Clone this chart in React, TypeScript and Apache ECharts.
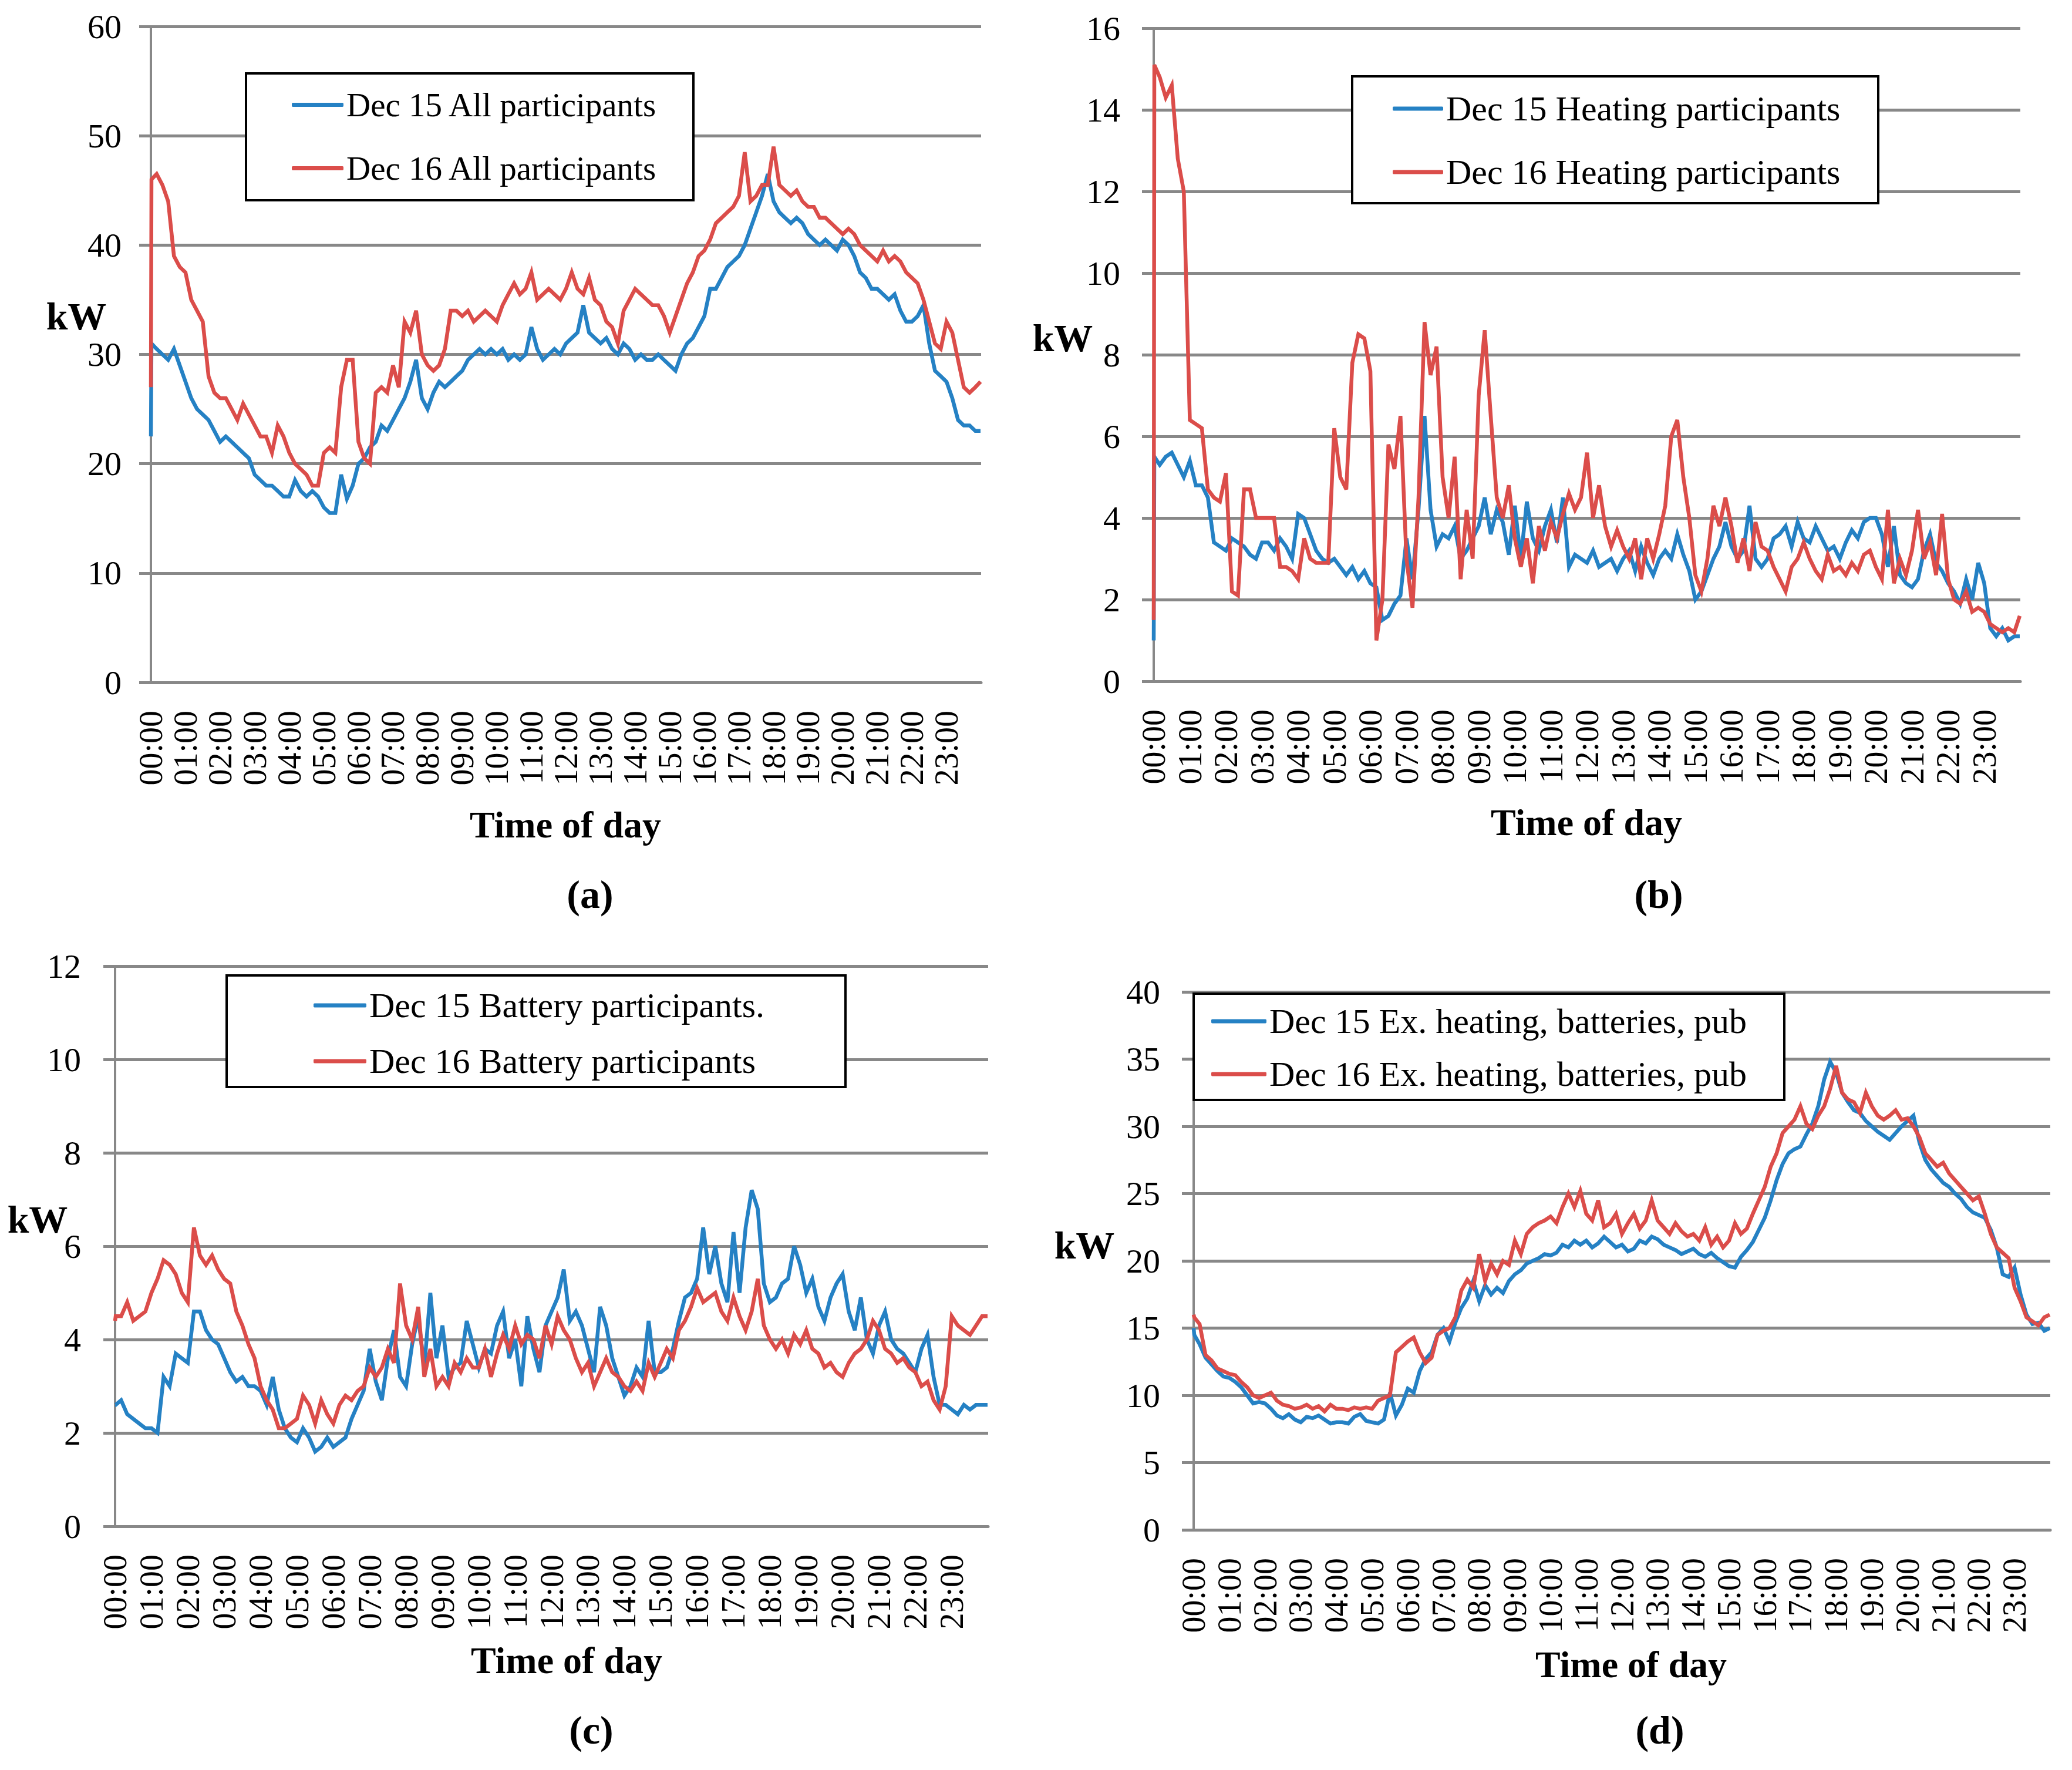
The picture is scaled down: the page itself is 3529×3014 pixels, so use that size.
import { useEffect, useRef } from 'react';
import * as echarts from 'echarts';

// ---------- tick labels ----------
const HOUR_LABELS = [
  '00:00', '01:00', '02:00', '03:00', '04:00', '05:00', '06:00', '07:00',
  '08:00', '09:00', '10:00', '11:00', '12:00', '13:00', '14:00', '15:00',
  '16:00', '17:00', '18:00', '19:00', '20:00', '21:00', '22:00', '23:00',
];

// sample times (minutes after midnight): first reading, then every 10 min, then last minute
const SAMPLE_MINUTES: number[] = (() => {
  const m = [0, 1];
  for (let k = 1; k <= 143; k++) m.push(k * 10);
  m.push(1439);
  return m;
})();

// ---------- (a) All participants ----------
const ALL_DEC15 = [
  22.5,
  31, 30.5, 30, 29.5, 30.5, 29,
  27.5, 26, 25, 24.5, 24, 23,
  22, 22.5, 22, 21.5, 21, 20.5,
  19, 18.5, 18, 18, 17.5, 17,
  17, 18.5, 17.5, 17, 17.5, 17,
  16, 15.5, 15.5, 19, 16.8, 18,
  20, 20.5, 21.5, 22, 23.5, 23,
  24, 25, 26, 27.5, 29.5, 26,
  25, 26.5, 27.5, 27, 27.5, 28,
  28.5, 29.5, 30, 30.5, 30, 30.5,
  30, 30.5, 29.5, 30, 29.5, 30,
  32.5, 30.5, 29.5, 30, 30.5, 30,
  31, 31.5, 32, 34.5, 32, 31.5,
  31, 31.5, 30.5, 30, 31, 30.5,
  29.5, 30, 29.5, 29.5, 30, 29.5,
  29, 28.5, 30, 31, 31.5, 32.5,
  33.5, 36, 36, 37, 38, 38.5,
  39, 40, 41.5, 43, 44.5, 46.5,
  44, 43, 42.5, 42, 42.5, 42,
  41, 40.5, 40, 40.5, 40, 39.5,
  40.5, 40, 39, 37.5, 37, 36,
  36, 35.5, 35, 35.5, 34, 33,
  33, 33.5, 34.5, 31, 28.5, 28,
  27.5, 26, 24, 23.5, 23.5, 23,
  23,
];
const ALL_DEC16 = [
  27,
  46, 46.5, 45.5, 44, 39, 38,
  37.5, 35, 34, 33, 28, 26.5,
  26, 26, 25, 24, 25.5, 24.5,
  23.5, 22.5, 22.5, 21, 23.5, 22.5,
  21, 20, 19.5, 19, 18, 18,
  21, 21.5, 21, 27, 29.5, 29.5,
  22, 20.5, 20, 26.5, 27, 26.5,
  29, 27, 33, 32, 34, 30,
  29, 28.5, 29, 30.5, 34, 34,
  33.5, 34, 33, 33.5, 34, 33.5,
  33, 34.5, 35.5, 36.5, 35.5, 36,
  37.5, 35, 35.5, 36, 35.5, 35,
  36, 37.5, 36, 35.5, 37, 35,
  34.5, 33, 32.5, 31, 34, 35,
  36, 35.5, 35, 34.5, 34.5, 33.5,
  32, 33.5, 35, 36.5, 37.5, 39,
  39.5, 40.5, 42, 42.5, 43, 43.5,
  44.5, 48.5, 44, 44.5, 45.5, 45.5,
  49, 45.5, 45, 44.5, 45, 44,
  43.5, 43.5, 42.5, 42.5, 42, 41.5,
  41, 41.5, 41, 40, 39.5, 39,
  38.5, 39.5, 38.5, 39, 38.5, 37.5,
  37, 36.5, 35, 33, 31, 30.5,
  33, 32, 29.5, 27, 26.5, 27,
  27.5,
];

// ---------- (b) Heating participants ----------
const HEAT_DEC15 = [
  1.0,
  5.5, 5.3, 5.5, 5.6, 5.3, 5.0,
  5.4, 4.8, 4.8, 4.5, 3.4, 3.3,
  3.2, 3.5, 3.4, 3.3, 3.1, 3.0,
  3.4, 3.4, 3.2, 3.5, 3.3, 3.0,
  4.1, 4.0, 3.6, 3.2, 3.0, 2.9,
  3.0, 2.8, 2.6, 2.8, 2.5, 2.7,
  2.4, 2.3, 1.5, 1.6, 1.9, 2.1,
  3.5, 2.5, 4.2, 6.5, 4.2, 3.3,
  3.6, 3.5, 3.8, 3.0, 3.2, 3.5,
  3.8, 4.5, 3.6, 4.2, 3.9, 3.1,
  4.3, 3.0, 4.4, 3.5, 3.2, 3.8,
  4.2, 3.4, 4.5, 2.8, 3.1, 3.0,
  2.9, 3.2, 2.8, 2.9, 3.0, 2.7,
  3.0, 3.2, 2.7, 3.3, 2.9, 2.6,
  3.0, 3.2, 3.0, 3.6, 3.1, 2.7,
  2.0, 2.2, 2.6, 3.0, 3.3, 3.9,
  3.3, 3.0, 3.2, 4.3, 3.0, 2.8,
  3.0, 3.5, 3.6, 3.8, 3.3, 3.9,
  3.5, 3.4, 3.8, 3.5, 3.2, 3.3,
  3.0, 3.4, 3.7, 3.5, 3.9, 4.0,
  4.0, 3.6, 2.8, 3.8, 2.6, 2.4,
  2.3, 2.5, 3.2, 3.6, 2.9, 2.7,
  2.4, 2.2, 1.9, 2.5, 2.0, 2.9,
  2.4, 1.3, 1.1, 1.3, 1.0, 1.1,
  1.1,
];
const HEAT_DEC16 = [
  1.5,
  15.1, 14.8, 14.3, 14.6, 12.8, 12.0,
  6.4, 6.3, 6.2, 4.7, 4.5, 4.4,
  5.1, 2.2, 2.1, 4.7, 4.7, 4.0,
  4.0, 4.0, 4.0, 2.8, 2.8, 2.7,
  2.5, 3.5, 3.0, 2.9, 2.9, 2.9,
  6.2, 5.0, 4.7, 7.8, 8.5, 8.4,
  7.6, 1.0, 2.0, 5.8, 5.2, 6.5,
  3.0, 1.8, 4.5, 8.8, 7.5, 8.2,
  5.0, 4.0, 5.5, 2.5, 4.2, 3.0,
  7.0, 8.6, 6.5, 4.5, 4.0, 4.8,
  3.5, 2.8, 3.5, 2.4, 3.8, 3.2,
  3.9, 3.5, 4.1, 4.6, 4.2, 4.5,
  5.6, 4.0, 4.8, 3.8, 3.3, 3.7,
  3.3, 3.0, 3.5, 2.5, 3.5, 3.0,
  3.6, 4.3, 6.0, 6.4, 5.0, 4.0,
  2.6, 2.2, 3.0, 4.3, 3.8, 4.5,
  3.8, 2.9, 3.5, 2.7, 3.9, 3.3,
  3.2, 2.8, 2.5, 2.2, 2.8, 3.0,
  3.4, 3.0, 2.7, 2.5, 3.1, 2.7,
  2.8, 2.6, 2.9, 2.7, 3.1, 3.2,
  2.8, 2.5, 4.2, 2.4, 3.0, 2.6,
  3.2, 4.2, 3.0, 3.4, 2.6, 4.1,
  2.5, 2.0, 1.9, 2.2, 1.7, 1.8,
  1.7, 1.4, 1.3, 1.2, 1.3, 1.2,
  1.6,
];

// ---------- (c) Battery participants ----------
const BATT_DEC15 = [
  2.6,
  2.6, 2.7, 2.4, 2.3, 2.2, 2.1,
  2.1, 2.0, 3.2, 3.0, 3.7, 3.6,
  3.5, 4.6, 4.6, 4.2, 4.0, 3.9,
  3.6, 3.3, 3.1, 3.2, 3.0, 3.0,
  2.9, 2.6, 3.2, 2.5, 2.1, 1.9,
  1.8, 2.1, 1.9, 1.6, 1.7, 1.9,
  1.7, 1.8, 1.9, 2.3, 2.6, 2.9,
  3.8, 3.1, 2.7, 3.6, 4.2, 3.2,
  3.0, 3.9, 4.5, 3.4, 5.0, 3.6,
  4.3, 3.2, 3.4, 3.5, 4.4, 3.9,
  3.4, 3.8, 3.7, 4.3, 4.6, 3.6,
  4.0, 3.0, 4.5, 3.8, 3.3, 4.3,
  4.6, 4.9, 5.5, 4.4, 4.6, 4.3,
  3.8, 3.3, 4.7, 4.3, 3.6, 3.2,
  2.8, 3.0, 3.4, 3.2, 4.4, 3.3,
  3.3, 3.4, 3.8, 4.4, 4.9, 5.0,
  5.3, 6.4, 5.4, 6.0, 5.2, 4.8,
  6.3, 5.0, 6.4, 7.2, 6.8, 5.2,
  4.8, 4.9, 5.2, 5.3, 6.0, 5.6,
  5.0, 5.3, 4.7, 4.4, 4.9, 5.2,
  5.4, 4.6, 4.2, 4.9, 4.0, 3.7,
  4.3, 4.6, 4.0, 3.8, 3.7, 3.5,
  3.3, 3.8, 4.1, 3.2, 2.6, 2.6,
  2.5, 2.4, 2.6, 2.5, 2.6, 2.6,
  2.6,
];
const BATT_DEC16 = [
  4.4,
  4.5, 4.5, 4.8, 4.4, 4.5, 4.6,
  5.0, 5.3, 5.7, 5.6, 5.4, 5.0,
  4.8, 6.4, 5.8, 5.6, 5.8, 5.5,
  5.3, 5.2, 4.6, 4.3, 3.9, 3.6,
  3.0, 2.7, 2.5, 2.1, 2.1, 2.2,
  2.3, 2.8, 2.6, 2.2, 2.7, 2.4,
  2.2, 2.6, 2.8, 2.7, 2.9, 3.0,
  3.4, 3.2, 3.4, 3.8, 3.5, 5.2,
  4.3, 4.0, 4.7, 3.2, 3.8, 3.0,
  3.2, 3.0, 3.5, 3.3, 3.6, 3.4,
  3.4, 3.8, 3.2, 3.7, 4.1, 3.8,
  4.3, 3.9, 4.1, 4.0, 3.6, 4.3,
  3.9, 4.5, 4.2, 4.0, 3.6, 3.3,
  3.5, 3.0, 3.3, 3.6, 3.3, 3.2,
  3.0, 2.9, 3.1, 2.9, 3.5, 3.2,
  3.5, 3.8, 3.6, 4.2, 4.4, 4.7,
  5.1, 4.8, 4.9, 5.0, 4.6, 4.4,
  4.9, 4.5, 4.2, 4.6, 5.3, 4.3,
  4.0, 3.8, 4.0, 3.7, 4.1, 3.9,
  4.2, 3.8, 3.7, 3.4, 3.5, 3.3,
  3.2, 3.5, 3.7, 3.8, 4.0, 4.4,
  4.2, 3.8, 3.7, 3.5, 3.6, 3.4,
  3.3, 3.0, 3.1, 2.7, 2.5, 3.0,
  4.5, 4.3, 4.2, 4.1, 4.3, 4.5,
  4.5,
];

// ---------- (d) Ex. heating, batteries, pub ----------
const EXCL_DEC15 = [
  15.0,
  14.5, 13.8, 12.8, 12.3, 11.8, 11.4,
  11.3, 11.0, 10.6, 10.0, 9.4, 9.5,
  9.4, 9.0, 8.5, 8.3, 8.6, 8.2,
  8.0, 8.4, 8.3, 8.5, 8.2, 7.9,
  8.0, 8.0, 7.9, 8.4, 8.6, 8.1,
  8.0, 7.9, 8.2, 10.2, 8.5, 9.3,
  10.5, 10.2, 11.8, 12.7, 13.2, 14.5,
  15.0, 14.0, 15.4, 16.5, 17.2, 18.5,
  17.0, 18.2, 17.5, 18.0, 17.6, 18.5,
  19.0, 19.3, 19.8, 20.0, 20.2, 20.5,
  20.4, 20.6, 21.2, 21.0, 21.5, 21.2,
  21.5, 21.0, 21.3, 21.8, 21.4, 21.0,
  21.2, 20.7, 20.9, 21.5, 21.3, 21.8,
  21.6, 21.2, 21.0, 20.8, 20.5, 20.7,
  20.9, 20.5, 20.3, 20.6, 20.2, 19.9,
  19.6, 19.5, 20.3, 20.8, 21.4, 22.3,
  23.2, 24.5, 26.0, 27.2, 28.0, 28.3,
  28.5, 29.4, 30.2, 31.5, 33.5, 34.8,
  34.0, 32.5, 31.8, 31.2, 31.0, 30.4,
  30.0, 29.6, 29.3, 29.0, 29.5, 30.0,
  30.4, 30.8, 28.8, 27.5, 26.8, 26.3,
  25.8, 25.5, 25.0, 24.6, 24.0, 23.6,
  23.4, 23.2, 22.3, 21.0, 19.0, 18.8,
  19.5, 17.5, 16.0, 15.3, 15.4, 14.8,
  15.0,
];
const EXCL_DEC16 = [
  16.0,
  15.8, 15.3, 13.0, 12.6, 12.0, 11.8,
  11.6, 11.5, 11.0, 10.6, 10.0, 9.8,
  10.0, 10.2, 9.6, 9.3, 9.2, 9.0,
  9.1, 9.3, 9.0, 9.2, 8.8, 9.3,
  9.0, 9.0, 8.9, 9.1, 9.0, 9.1,
  9.0, 9.6, 9.8, 10.0, 13.2, 13.6,
  14.0, 14.3, 13.2, 12.4, 12.8, 14.5,
  14.8, 15.0, 15.8, 17.8, 18.6, 18.0,
  20.5, 18.5, 19.8, 19.0, 20.0, 19.7,
  21.5, 20.5, 22.0, 22.5, 22.8, 23.0,
  23.3, 22.8, 24.0, 25.0, 24.0, 25.2,
  23.5, 23.0, 24.5, 22.5, 22.8, 23.5,
  22.0, 22.8, 23.5, 22.4, 23.0, 24.5,
  23.0, 22.5, 22.0, 22.8, 22.2, 21.8,
  22.0, 21.5, 22.5, 21.2, 21.8, 21.0,
  21.5, 22.8, 22.0, 22.4, 23.5, 24.5,
  25.5, 27.0, 28.0, 29.5, 30.0, 30.5,
  31.5, 30.2, 29.8, 30.8, 31.5, 32.8,
  34.5, 32.5, 32.0, 31.8, 31.0, 32.5,
  31.5, 30.8, 30.5, 30.8, 31.2, 30.5,
  30.6, 30.0, 29.2, 28.0, 27.5, 27.0,
  27.3, 26.5, 26.0, 25.5, 25.0, 24.5,
  24.8, 23.5, 22.0, 21.0, 20.6, 20.2,
  18.0, 17.0, 15.8, 15.5, 15.2, 15.8,
  16.0,
];

const BLUE = '#2581c4';
const RED = '#db4d4a';
const GRID_GRAY = '#888888';
const FONT = 'Liberation Serif';

type Panel = {
  left: number; top: number; width: number; height: number;
  yMax: number; yInterval: number; yLabelMargin: number;
  names: [string, string]; data: [number[], number[]];
  box: [number, number, number, number];
  legendLeft: number; legendTop: number; legendGap: number; iconW: number; legendFont: number;
  kw: [number, number]; xTitle: [number, number]; tag: [number, number]; tagText: string;
};

const PANELS: Panel[] = [
  {
    left: 257, top: 45, width: 1414, height: 1117,
    yMax: 60, yInterval: 10, yLabelMargin: 50,
    names: ['Dec 15 All participants', 'Dec 16 All participants'],
    data: [ALL_DEC15, ALL_DEC16],
    box: [419, 125, 762, 216], legendLeft: 497, legendTop: 150, legendGap: 51, iconW: 88, legendFont: 57,
    kw: [130, 538], xTitle: [963, 1404], tag: [1005, 1523], tagText: '(a)',
  },
  {
    left: 1965, top: 48, width: 1476, height: 1112,
    yMax: 16, yInterval: 2, yLabelMargin: 57,
    names: ['Dec 15 Heating participants', 'Dec 16 Heating participants'],
    data: [HEAT_DEC15, HEAT_DEC16],
    box: [2303, 130, 896, 216], legendLeft: 2372, legendTop: 155, legendGap: 48, iconW: 86, legendFont: 60,
    kw: [1810, 575], xTitle: [2702, 1400], tag: [2825, 1523], tagText: '(b)',
  },
  {
    left: 196, top: 1645, width: 1487, height: 954,
    yMax: 12, yInterval: 2, yLabelMargin: 58,
    names: ['Dec 15 Battery participants.', 'Dec 16 Battery participants'],
    data: [BATT_DEC15, BATT_DEC16],
    box: [386, 1661, 1054, 190], legendLeft: 534, legendTop: 1682, legendGap: 35, iconW: 90, legendFont: 60,
    kw: [64, 2076], xTitle: [965, 2827], tag: [1007, 2946], tagText: '(c)',
  },
  {
    left: 2033, top: 1689, width: 1459, height: 916,
    yMax: 40, yInterval: 5, yLabelMargin: 57,
    names: ['Dec 15 Ex. heating, batteries, pub', 'Dec 16 Ex. heating, batteries, pub'],
    data: [EXCL_DEC15, EXCL_DEC16],
    box: [2033, 1692, 1006, 181], legendLeft: 2063, legendTop: 1709, legendGap: 30, iconW: 94, legendFont: 60,
    kw: [1847, 2120], xTitle: [2778, 2834], tag: [2827, 2946], tagText: '(d)',
  },
];

const toPairs = (vals: number[]) => vals.map((v, i) => [SAMPLE_MINUTES[i], v]);

function textEl(x: number, y: number, text: string, size: number, bold: boolean) {
  return {
    type: 'text', x, y, z: 20,
    style: {
      text, fill: '#000', fontSize: size, fontFamily: FONT, fontWeight: bold ? 'bold' : 'normal',
      textAlign: 'center', textVerticalAlign: 'middle', align: 'center', verticalAlign: 'middle',
    },
  };
}

export default function App() {
  const ref = useRef<HTMLDivElement>(null);
  useEffect(() => {
    if (!ref.current) return;
    const chart = echarts.init(ref.current, undefined, { renderer: 'svg' });
    const option: any = {
      animation: false,
      backgroundColor: '#ffffff',
      textStyle: { fontFamily: FONT },
      grid: PANELS.map((p) => ({ left: p.left, top: p.top, width: p.width, height: p.height, containLabel: false })),
      xAxis: PANELS.map((p, i) => ({
        type: 'value', gridIndex: i, min: 0, max: 1440, interval: 60,
        axisLine: { show: true, lineStyle: { color: GRID_GRAY, width: 5 } },
        axisTick: { show: false },
        splitLine: { show: false },
        axisLabel: {
          rotate: 90, margin: 48, fontSize: 56, color: '#000', fontFamily: FONT,
          showMaxLabel: false,
          formatter: (v: number) => (v % 60 === 0 && v < 1440 ? HOUR_LABELS[v / 60] : ''),
        },
      })),
      yAxis: PANELS.map((p, i) => ({
        type: 'value', gridIndex: i, min: 0, max: p.yMax, interval: p.yInterval,
        axisLine: { show: true, lineStyle: { color: GRID_GRAY, width: 4 } },
        axisTick: { show: true, length: 20, lineStyle: { color: GRID_GRAY, width: 5 } },
        splitLine: { show: true, lineStyle: { color: GRID_GRAY, width: 5 } },
        axisLabel: { margin: p.yLabelMargin, fontSize: 58, color: '#000', fontFamily: FONT },
      })),
      legend: PANELS.map((p) => ({
        data: p.names, orient: 'vertical', left: p.legendLeft, top: p.legendTop,
        itemGap: p.legendGap, itemWidth: p.iconW, itemHeight: 7, icon: 'roundRect',
        padding: 0, z: 10, selectedMode: false,
        textStyle: { fontSize: p.legendFont, color: '#000', fontFamily: FONT, lineHeight: p.legendFont },
      })),
      series: PANELS.flatMap((p, i) => [
        {
          name: p.names[0], type: 'line', xAxisIndex: i, yAxisIndex: i, symbol: 'none',
          data: toPairs(p.data[0]), lineStyle: { width: 6.5, color: BLUE, join: 'miter' }, itemStyle: { color: BLUE }, z: 3,
        },
        {
          name: p.names[1], type: 'line', xAxisIndex: i, yAxisIndex: i, symbol: 'none',
          data: toPairs(p.data[1]), lineStyle: { width: 6.5, color: RED, join: 'miter' }, itemStyle: { color: RED }, z: 4,
        },
      ]),
      graphic: PANELS.flatMap((p) => [
        {
          type: 'rect', z: 5,
          shape: { x: p.box[0], y: p.box[1], width: p.box[2], height: p.box[3] },
          style: { fill: '#ffffff', stroke: '#000000', lineWidth: 4 },
        },
        textEl(p.kw[0], p.kw[1], 'kW', 66, true),
        textEl(p.xTitle[0], p.xTitle[1], 'Time of day', 64, true),
        textEl(p.tag[0], p.tag[1], p.tagText, 68, true),
      ]),
    };
    chart.setOption(option);
    return () => chart.dispose();
  }, []);
  return <div ref={ref} style={{ position: 'absolute', left: 0, top: 0, width: 3529, height: 3014 }} />;
}
